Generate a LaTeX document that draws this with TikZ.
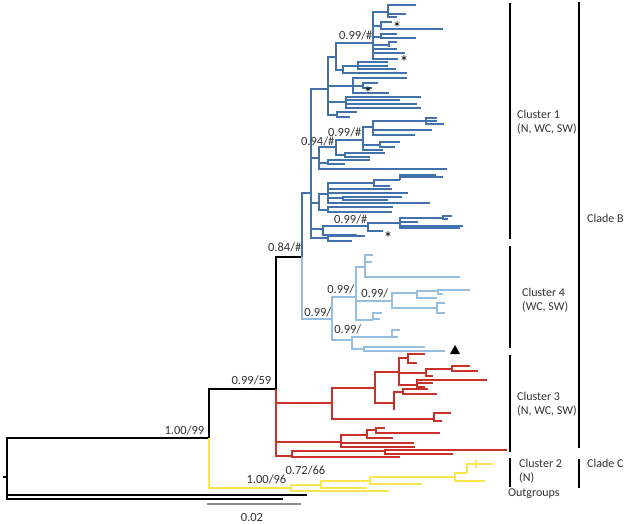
\documentclass[tikz,border=0pt]{standalone}
\usepackage{fontspec}
\setmainfont{Carlito}
\definecolor{cB}{RGB}{66,114,172}
\definecolor{cL}{RGB}{150,190,222}
\definecolor{cR}{RGB}{200,48,40}
\definecolor{cY}{RGB}{250,228,80}
\definecolor{cT}{RGB}{50,50,50}
\newcommand\kids[3]{\foreach \cx/\cy in {#3}{\draw[#1] (#2) |- (\cx,\cy);}}
\tikzset{
  tr/.style={line width=1.6pt},
  blk/.style={tr,draw=black},
  blu/.style={tr,draw=cB},
  lbl/.style={tr,draw=cL},
  red/.style={tr,draw=cR},
  yel/.style={tr,draw=cY},
  brk/.style={line width=1.4pt,draw=black},
  lab/.style={font=\fontsize{12.5}{14}\selectfont,text=cT,inner sep=0.5pt},
  rlab/.style={font=\fontsize{12}{14.5}\selectfont,text=cT,inner sep=0pt,anchor=west,align=left},
  ast/.style={font=\fontsize{18}{18}\selectfont,inner sep=0pt}
}
\begin{document}
\begin{tikzpicture}[x=1pt,y=-1pt]
\useasboundingbox (0,0) rectangle (626,523);
% root and backbone
\draw[blk] (3,477) -- (7,477);
\kids{blk}{7,477}{209/438,307/495,283/499}
\kids{blk}{209,438}{276/389}
\kids{yel}{209,438}{291/488}
\kids{blk}{276,389}{302/257}
\kids{red}{276,389}{332/403,341/442,292/456}
\kids{lbl}{302,257}{332/319}
\kids{blu}{302,257}{311/193}
% cluster 1 (blue)
\kids{blu}{311,193}{328/89,319/158,319/203,323/229,328/238}
\kids{blu}{328,89}{336/57,353/86,346/102,337/115}
\kids{blu}{336,57}{373/43,343/70}
\kids{blu}{373,43}{388/12,381/26,381/37,389/45,397/49,405/53,398/59}
\kids{blu}{388,12}{416/5,406/14,397/17}
\kids{blu}{381,26}{392/22,443/29}
\kids{blu}{381,37}{397/34,416/38}
\kids{blu}{389,45}{397/42,390/46}
\kids{blu}{343,70}{358/66,407/73}
\kids{blu}{358,66}{388/62,388/66,396/69}
\kids{blu}{353,86}{407/78,363/86,389/93}
\kids{blu}{363,86}{378/83,372/88}
\kids{blu}{346,102}{421/97,400/100,417/104,421/108}
\kids{blu}{337,115}{357/112,350/117}
\kids{blu}{319,158}{336/147,328/163,447/169}
\kids{blu}{336,147}{363/140,345/155}
\kids{blu}{363,140}{373/127,380/145,383/150}
\kids{blu}{373,127}{426/121,432/130,415/135}
\kids{blu}{426,121}{437/118,437/121,444/124}
\kids{blu}{380,145}{400/142,395/147}
\kids{blu}{345,155}{385/153,370/157}
\kids{blu}{328,163}{370/160,345/164}
\kids{blu}{319,203}{328/194,328/210}
\kids{blu}{328,194}{374/183,392/189,408/193,343/198,430/203}
\kids{blu}{374,183}{400/180,390/186}
\kids{blu}{400,180}{436/175,443/177}
\kids{blu}{343,198}{402/197,388/200}
\kids{blu}{328,210}{393/207,392/212}
\kids{blu}{323,229}{368/226,357/235}
\kids{blu}{368,226}{400/223,383/231}
\kids{blu}{400,223}{443/218,418/222,463/226,460/228}
\kids{blu}{443,218}{452/216,448/219}
\kids{blu}{328,238}{365/236,352/241}
% cluster 4 (light blue)
\kids{lbl}{332,319}{356/297,352/340}
\kids{lbl}{356,297}{365/267,392/301,373/320}
\kids{lbl}{365,267}{373/255,372/262,460/277}
\kids{lbl}{392,301}{417/293,437/308}
\kids{lbl}{417,293}{438/291,437/298}
\kids{lbl}{438,291}{470/290,443/294}
\kids{lbl}{437,308}{445/303,445/313}
\kids{lbl}{373,320}{382/313,380/319}
\kids{lbl}{352,340}{392/337,364/349}
\kids{lbl}{392,337}{400/330,398/337}
\kids{lbl}{364,349}{425/347,445/351}
% cluster 3 (red)
\kids{red}{332,403}{375/388,434/419}
\kids{red}{375,388}{399/372,394/403}
\kids{red}{399,372}{408/358,426/373,417/385}
\kids{red}{408,358}{425/354,417/363}
\kids{red}{426,373}{452/369,433/376}
\kids{red}{452,369}{470/366,478/371}
\kids{red}{417,385}{487/380,433/383,425/387}
\kids{red}{394,403}{403/392,394/410}
\kids{red}{403,392}{428/389,437/394}
\kids{red}{434,419}{451/413,442/421}
\kids{red}{341,442}{367/435,414/443,415/447}
\kids{red}{367,435}{376/430,393/438}
\kids{red}{376,430}{385/428,440/433}
\kids{red}{292,456}{385/451,400/457}
\kids{red}{385,451}{507/450,453/454}
% cluster 2 (yellow)
\kids{yel}{291,488}{321/485,389/491}
\kids{yel}{321,485}{370/481,367/488}
\kids{yel}{370,481}{455/477,422/484}
\kids{yel}{455,477}{467/473,485/481}
\kids{yel}{467,473}{493/464}
\draw[yel] (476,460) -- (476,468);
% support labels
\node[lab,anchor=south east] at (373,41) {0.99/\#};
\node[lab,anchor=south east] at (362,138) {0.99/\#};
\node[lab,anchor=south east] at (335,147) {0.94/\#};
\node[lab,anchor=south east] at (368,225) {0.99/\#};
\node[lab,anchor=south east] at (302,253) {0.84/\#};
\node[lab,anchor=south east] at (355,295) {0.99/};
\node[lab,anchor=south east] at (389,299) {0.99/};
\node[lab,anchor=south east] at (332,318) {0.99/};
\node[lab,anchor=south east] at (362,335) {0.99/};
\node[lab,anchor=south east] at (272,386) {0.99/59};
\node[lab,anchor=south east] at (205,436) {1.00/99};
\node[lab,anchor=south east] at (287,485) {1.00/96};
\node[lab,anchor=south east] at (326,476) {0.72/66};
% asterisks and triangle
\node[ast] at (397,28) {*};
\node[ast] at (404,62) {*};
\node[ast] at (368,93) {*};
\node[ast] at (388,238) {*};
\fill (450,354) -- (460,354) -- (455,345) -- cycle;
% scale bar
\draw[line width=1.2pt,draw=black!45] (207,504) -- (301,504);
\node[lab] at (252,517) {0.02};
% brackets
\draw[brk] (510,3) -- (510,239);
\draw[brk] (510,246) -- (510,348);
\draw[brk] (510,355) -- (510,452);
\draw[brk] (510,458) -- (510,487);
\draw[brk] (579,2) -- (579,448);
\draw[brk] (579,459) -- (579,488);
\node[rlab] at (517,122) {Cluster 1\\(N, WC, SW)};
\node[rlab] at (522,300) {Cluster 4\\(WC, SW)};
\node[rlab] at (517,404) {Cluster 3\\(N, WC, SW)};
\node[rlab] at (519,471) {Cluster 2\\(N)};
\node[rlab] at (508,494) {Outgroups};
\node[rlab] at (587,218) {Clade B};
\node[rlab] at (587,463) {Clade C};
\end{tikzpicture}
\end{document}
